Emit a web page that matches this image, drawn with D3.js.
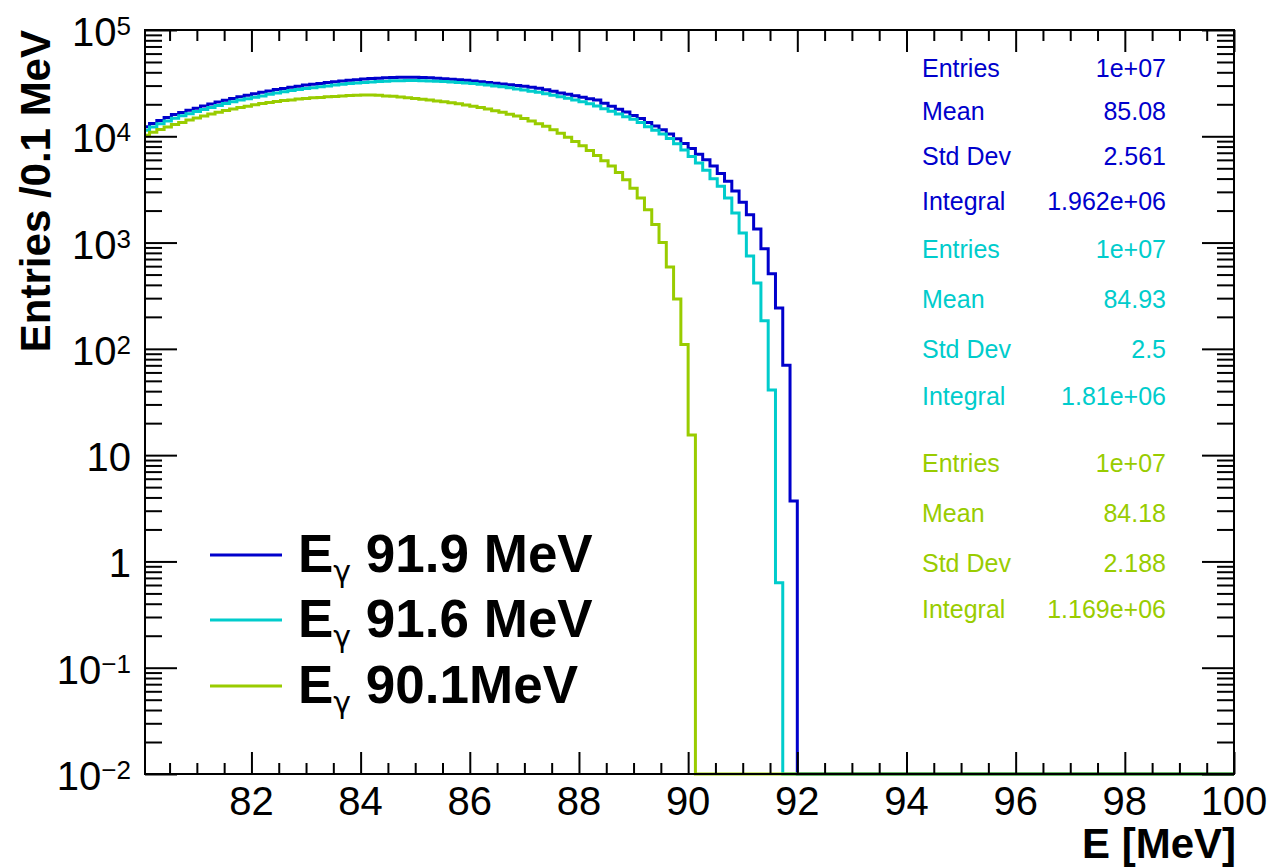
<!DOCTYPE html>
<html>
<head>
<title>Photon energy spectra</title>
<script src="https://d3js.org/d3.v7.min.js"></script>
<style>
  html, body { margin: 0; padding: 0; background: #fff; }
  svg { display: block; font-family: "Liberation Sans", Arial, Helvetica, sans-serif; }
  .frame { fill: none; stroke: #000; stroke-width: 2px; }
  .axis path { display: none; }
  .axis line { stroke: #000; stroke-width: 2px; }
  .tick-label { font-size: 40px; fill: #000; }
  .axis-title { font-size: 42px; font-weight: bold; fill: #000; }
  .hist { fill: none; stroke-width: 3px; }
  .stats text { font-size: 25px; }
  .legend text { font-size: 53px; font-weight: bold; fill: #000; }
  .legend .greek { font-family: "DejaVu Sans", sans-serif; font-size: 30px; font-weight: normal; }
</style>
</head>
<body>
<svg width="1285" height="868"></svg>
<script>
// histogram binning: 150 bins between 80 and 100 MeV
const xLow = 80, xHigh = 100, binWidth = 20 / 150;

// bin contents (bins beyond the list are empty)
const blueCounts = [12300,13200,14100,15000,16000,16700,17600,18400,19300,20100,
  21000,21800,22700,23600,24300,25100,25900,26700,27500,28200,
  28900,29600,30300,30800,31400,32000,32600,33200,33700,34100,
  34600,35000,35200,35600,35800,36000,36000,35900,35700,35500,
  35100,34800,34400,34000,33600,33100,32600,32100,31600,31100,
  30600,30100,29600,29000,28300,27400,26500,25600,24900,24100,
  23300,22600,21900,20500,19200,18000,16900,15700,14700,13500,
  12500,11500,10500,9500,8550,7690,6790,6000,5250,4470,
  3780,3060,2400,1830,1340,877,509,242,70,3.7];

const cyanCounts = [11400,12200,13100,13900,14800,15600,16300,17100,17900,18700,
  19500,20300,21100,21900,22600,23300,24000,24800,25600,26200,
  26900,27500,28100,28600,29200,29700,30300,30800,31300,31700,
  32100,32500,32700,33000,33300,33300,33400,33400,33300,33200,
  33000,32800,32500,32100,31800,31300,30800,30300,29800,29200,
  28600,27900,27300,26600,25900,25100,24300,23600,22800,22000,
  21100,20200,19300,18200,17200,16200,15300,14500,13500,12300,
  11400,10500,9550,8510,7410,6460,5620,4790,3980,3390,
  2630,1900,1230,747,416,184,41,0.63];

const greenCounts = [10200,10900,11600,12200,12900,13500,14200,14900,15500,16200,
  16800,17500,18100,18700,19200,19800,20300,20800,21300,21700,
  22000,22400,22700,23000,23200,23500,23700,23900,24200,24300,
  24400,24400,24300,24000,23800,23400,23100,22700,22300,21900,
  21500,21100,20700,20200,19700,19200,18700,18100,17400,16800,
  16100,15500,14700,13900,13100,12400,11500,10700,9770,8910,
  8130,7330,6610,5890,5250,4570,3890,3240,2630,2040,
  1480,1000,589,295,110,15.5];

const seriesColors = ['#0000cc', '#00cccc', '#99cc00'];
const legendLabels = [' 91.9 MeV', ' 91.6 MeV', ' 90.1MeV'];

const statNames = ['Entries', 'Mean', 'Std Dev', 'Integral'];
const blueStats = ['1e+07', '85.08', '2.561', '1.962e+06'];
const cyanStats = ['1e+07', '84.93', '2.5', '1.81e+06'];
const greenStats = ['1e+07', '84.18', '2.188', '1.169e+06'];

const xMajor = [82, 84, 86, 88, 90, 92, 94, 96, 98, 100];
const yMajor = [1e-2, 1e-1, 1, 10, 1e2, 1e3, 1e4, 1e5];

// ---------------------------------------------------------------
const svg = d3.select('svg');
const padL = 145, padR = 1234, padT = 30, padB = 774;

const x = d3.scaleLinear().domain([80.05, xHigh]).range([padL, padR]);
const y = d3.scaleLog().domain([1e-2, 1e5]).range([padB, padT]);

let xMinor = d3.range(80.5, 100, 0.5).filter(v => Math.abs(v - Math.round(v / 2) * 2) > 1e-6);
let yMinor = [];
for (let e = -2; e < 5; e++) for (let m = 2; m < 10; m++) yMinor.push(m * Math.pow(10, e));

svg.append('defs').append('clipPath').attr('id', 'clip')
   .append('rect').attr('x', padL).attr('y', 0).attr('width', padR - padL).attr('height', 868);

// histograms
let series = [blueCounts, cyanCounts, greenCounts];
let line = d3.line().x(d => x(d[0])).y(d => y(d[1])).curve(d3.curveStepAfter);

svg.append('g').attr('clip-path', 'url(#clip)')
   .selectAll('path')
   .data(series)
   .join('path')
   .classed('hist', true)
   .attr('stroke', (d, i) => seriesColors[i])
   .attr('d', counts => {
       let pts = counts.map((c, k) => [xLow + k * binWidth, c]);
       pts.push([xLow + counts.length * binWidth, y.domain()[0]]);
       pts.push([xHigh, y.domain()[0]]);
       return line(pts);
   });

// axes, ticks on all four sides pointing inward
function ticks(axis, vals, size, transform) {
    svg.append('g').classed('axis', true)
       .attr('transform', transform)
       .call(axis.tickValues(vals).tickSize(size).tickFormat(''));
}
ticks(d3.axisBottom(x), xMajor, -22, `translate(0,${padB})`);
ticks(d3.axisBottom(x), xMinor, -11, `translate(0,${padB})`);
ticks(d3.axisTop(x), xMajor, -22, `translate(0,${padT})`);
ticks(d3.axisTop(x), xMinor, -11, `translate(0,${padT})`);
ticks(d3.axisLeft(y), yMajor, -32, `translate(${padL},0)`);
ticks(d3.axisLeft(y), yMinor, -17, `translate(${padL},0)`);
ticks(d3.axisRight(y), yMajor, -32, `translate(${padR},0)`);
ticks(d3.axisRight(y), yMinor, -17, `translate(${padR},0)`);

svg.append('rect').classed('frame', true)
   .attr('x', padL).attr('y', padT).attr('width', padR - padL).attr('height', padB - padT);

// tick labels
svg.selectAll('.xlab')
   .data(xMajor)
   .join('text')
   .classed('tick-label', true)
   .attr('x', d => x(d))
   .attr('y', 815)
   .attr('text-anchor', 'middle')
   .text(d => d);

let ylabs = svg.selectAll('.ylab')
   .data(yMajor)
   .join('text')
   .classed('tick-label', true)
   .attr('x', 131)
   .attr('y', d => y(d) + 16)
   .attr('text-anchor', 'end');
ylabs.each(function(d) {
    let e = Math.round(Math.log10(d));
    let t = d3.select(this);
    if (e === 0 || e === 1) { t.text(d); return; }
    t.append('tspan').text('10');
    t.append('tspan').attr('dy', -11).style('font-size', '26px')
     .text(e < 0 ? '\u2212' + (-e) : e);
});

// axis titles
svg.append('text').classed('axis-title', true)
   .attr('text-anchor', 'end')
   .attr('transform', `translate(50,${padT}) rotate(-90)`)
   .text('Entries /0.1 MeV');
svg.append('text').classed('axis-title', true)
   .attr('text-anchor', 'end')
   .attr('x', 1236).attr('y', 858)
   .text('E [MeV]');

// stats boxes
let statRows = [[77, 120, 165, 210], [258, 308, 358, 405], [472, 522, 572, 618]];
[blueStats, cyanStats, greenStats].forEach((vals, i) => {
    let g = svg.append('g').classed('stats', true).attr('fill', seriesColors[i]);
    g.selectAll('.name').data(statNames).join('text')
     .attr('x', 922).attr('y', (d, j) => statRows[i][j]).text(d => d);
    g.selectAll('.val').data(vals).join('text')
     .attr('x', 1166).attr('y', (d, j) => statRows[i][j])
     .attr('text-anchor', 'end').text(d => d);
});

// legend
let legendY = [555, 620, 686];
let leg = svg.append('g').classed('legend', true);
legendLabels.forEach((lab, i) => {
    leg.append('line')
       .attr('x1', 210).attr('x2', 282)
       .attr('y1', legendY[i]).attr('y2', legendY[i])
       .attr('stroke', seriesColors[i]).attr('stroke-width', 3);
    let t = leg.append('text').attr('x', 298).attr('y', legendY[i] + 17);
    t.append('tspan').text('E');
    t.append('tspan').classed('greek', true).attr('dy', 10).text('\u03b3');
    t.append('tspan').attr('dy', -10).text(lab);
});
</script>
</body>
</html>
